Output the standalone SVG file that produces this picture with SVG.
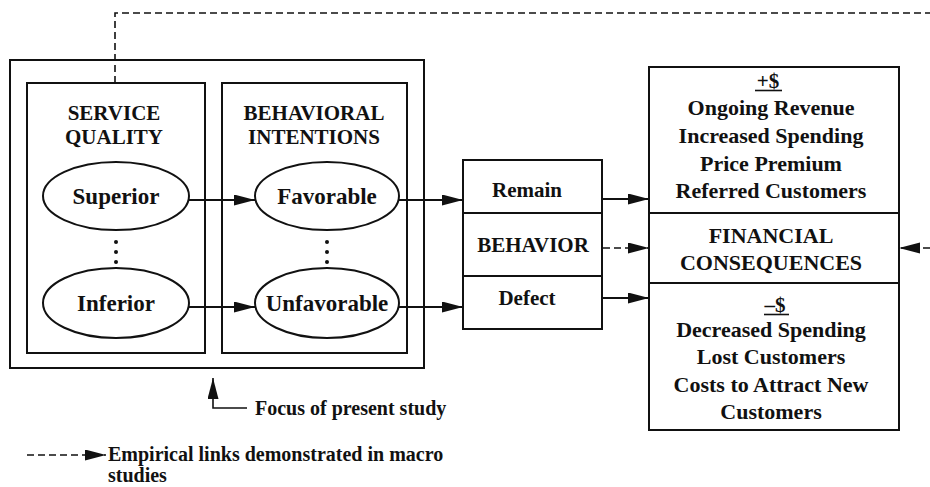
<svg xmlns="http://www.w3.org/2000/svg" width="930" height="487" viewBox="0 0 930 487">
  <style>
    .box { fill: none; stroke: #111; stroke-width: 2; }
    .oval { fill: #fff; stroke: #111; stroke-width: 2; }
    .t { font-family: "Liberation Serif", "Times New Roman", serif; font-weight: bold; font-size: 23px; fill: #111; text-anchor: middle; }
    .h { font-size: 21px; }
    .s { font-family: "Liberation Serif", "Times New Roman", serif; font-weight: bold; font-size: 20px; fill: #111; }
    .ln { fill: none; stroke: #111; stroke-width: 2; }
    .dash { fill: none; stroke: #111; stroke-width: 1.6; stroke-dasharray: 7 4; }
    .dot { fill: #111; }
  </style>
  <defs>
    <marker id="head" markerUnits="userSpaceOnUse" markerWidth="22" markerHeight="12" refX="21" refY="5.5" orient="auto">
      <path d="M0,0 L21,5.5 L0,11 Z" fill="#111"/>
    </marker>
  </defs>

  <!-- study frame around the two constructs -->
  <g id="focus-frame">
    <rect class="box" x="10" y="60" width="414" height="308"/>
  </g>

  <g id="service-quality">
    <rect class="box" x="27" y="83" width="178" height="270"/>
    <text class="t h" x="114" y="120">SERVICE</text>
    <text class="t h" x="114" y="144">QUALITY</text>
  </g>
  <g id="superior">
    <ellipse class="oval" cx="116" cy="196" rx="73" ry="34"/>
    <text class="t" x="116" y="204">Superior</text>
  </g>
  <g id="sq-dots">
    <circle class="dot" cx="116" cy="242" r="2"/>
    <circle class="dot" cx="116" cy="252" r="2"/>
    <circle class="dot" cx="116" cy="262" r="2"/>
  </g>
  <g id="inferior">
    <ellipse class="oval" cx="116" cy="303" rx="73" ry="35"/>
    <text class="t" x="116" y="311">Inferior</text>
  </g>

  <g id="behavioral-intentions">
    <rect class="box" x="222" y="83" width="185" height="270"/>
    <text class="t h" x="314" y="120">BEHAVIORAL</text>
    <text class="t h" x="314" y="144">INTENTIONS</text>
  </g>
  <g id="favorable">
    <ellipse class="oval" cx="327" cy="196" rx="72" ry="34"/>
    <text class="t" x="327" y="204">Favorable</text>
  </g>
  <g id="bi-dots">
    <circle class="dot" cx="327" cy="242" r="2"/>
    <circle class="dot" cx="327" cy="252" r="2"/>
    <circle class="dot" cx="327" cy="262" r="2"/>
  </g>
  <g id="unfavorable">
    <ellipse class="oval" cx="327" cy="303" rx="72" ry="35"/>
    <text class="t" x="327" y="311">Unfavorable</text>
  </g>

  <g id="behavior">
    <rect class="box" x="463" y="160" width="139" height="169"/>
    <line class="ln" x1="463" y1="213" x2="602" y2="213"/>
    <line class="ln" x1="463" y1="276" x2="602" y2="276"/>
    <text class="t h" x="527" y="197">Remain</text>
    <text class="t h" x="533" y="252">BEHAVIOR</text>
    <text class="t h" x="527" y="305">Defect</text>
  </g>

  <g id="financial-consequences">
    <rect class="box" x="649" y="67" width="250" height="363"/>
    <line class="ln" x1="649" y1="213" x2="899" y2="213"/>
    <line class="ln" x1="649" y1="283" x2="899" y2="283"/>
    <text class="t h" x="768" y="88">+$</text>
    <line x1="755" y1="90.5" x2="782" y2="90.5" stroke="#111" stroke-width="1.6"/>
    <text class="t" x="771" y="115" style="font-size:22px">Ongoing Revenue</text>
    <text class="t" x="771" y="143" style="font-size:22px">Increased Spending</text>
    <text class="t" x="771" y="171" style="font-size:22px">Price Premium</text>
    <text class="t" x="771" y="198" style="font-size:22px">Referred Customers</text>
    <text class="t" x="771" y="243" style="font-size:22px">FINANCIAL</text>
    <text class="t" x="771" y="270" style="font-size:22px">CONSEQUENCES</text>
    <text class="t h" x="775" y="312">–$</text>
    <line x1="764" y1="314.5" x2="789" y2="314.5" stroke="#111" stroke-width="1.6"/>
    <text class="t" x="771" y="337" style="font-size:22px">Decreased Spending</text>
    <text class="t" x="771" y="364" style="font-size:22px">Lost Customers</text>
    <text class="t" x="771" y="392" style="font-size:22px">Costs to Attract New</text>
    <text class="t" x="771" y="419" style="font-size:22px">Customers</text>
  </g>

  <g id="connectors">
    <line class="ln" x1="189" y1="200" x2="255" y2="200" marker-end="url(#head)"/>
    <line class="ln" x1="189" y1="307" x2="255" y2="307" marker-end="url(#head)"/>
    <line class="ln" x1="399" y1="200" x2="463" y2="200" marker-end="url(#head)"/>
    <line class="ln" x1="399" y1="307" x2="463" y2="307" marker-end="url(#head)"/>
    <line class="ln" x1="602" y1="199" x2="649" y2="199" marker-end="url(#head)"/>
    <line class="ln" x1="602" y1="298" x2="649" y2="298" marker-end="url(#head)"/>
    <line class="dash" x1="603" y1="248" x2="649" y2="248" marker-end="url(#head)"/>
    <line class="dash" x1="930" y1="248" x2="899" y2="248" marker-end="url(#head)"/>
    <polyline class="dash" points="115,83 115,13 930,13"/>
  </g>

  <g id="focus-note">
    <polyline class="ln" points="247,408 213,408 213,378" style="stroke-width:1.6" marker-end="url(#head)"/>
    <text class="s" x="255" y="415">Focus of present study</text>
  </g>

  <g id="legend">
    <line class="dash" x1="27" y1="455" x2="106" y2="455" marker-end="url(#head)"/>
    <text class="s" x="108" y="461">Empirical links demonstrated in macro</text>
    <text class="s" x="108" y="482">studies</text>
  </g>
</svg>
